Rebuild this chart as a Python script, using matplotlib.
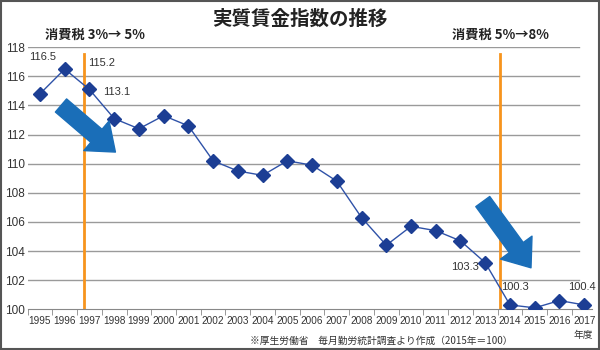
import numpy as np
import matplotlib
matplotlib.use('Agg')
import matplotlib.pyplot as plt
from matplotlib.patches import Rectangle

plt.rcParams['font.family'] = ['Liberation Sans', 'Noto Sans CJK JP', 'DejaVu Sans']

# data
years = list(range(1995, 2018))
wage_index = [114.8, 116.5, 115.1, 113.1, 112.4, 113.3, 112.6, 110.2, 109.5, 109.2,
              110.2, 109.9, 108.8, 106.3, 104.4, 105.7, 105.4, 104.7, 103.2, 100.3,
              100.1, 100.6, 100.3]
label_texts = ['116.5', '115.2', '113.1', '103.3', '100.3', '100.4']
label_x = [1994.55, 1996.95, 1997.55, 2011.6, 2013.65, 2016.35]
label_y = [117.33, 116.93, 114.93, 102.93, 101.55, 101.55]
tax_years = [1996.8, 2013.6]
tax_texts = ['消費税 3%→ 5%', '消費税 5%→8%']
yticks = list(range(100, 119, 2))

fig = plt.figure(figsize=(6, 3.5), dpi=100)
ax = fig.add_axes([0.046, 0.1163, 0.94, 0.7487])

ax.set_xlim(1994.5, 2017.3)
ax.set_ylim(100, 118)

# grid lines (stop a bit short of the right end like the original)
for y in yticks[1:]:
    ax.plot([1994.5, 2016.8], [y, y], color='#9a9a9a', lw=1, zorder=1)

# tax hike lines
for tx in tax_years:
    ax.plot([tx, tx], [100, 117.55], color='#f7941d', lw=2, zorder=2)

ax.plot(years, wage_index, color='#2f52a8', lw=1, marker='D', markersize=7.5,
        markerfacecolor='#1c3e94', markeredgecolor='#1c3e94', zorder=4)

# value labels
for lx, ly, txt in zip(label_x, label_y, label_texts):
    ax.text(lx, ly, txt, fontsize=8, color='#333333', va='center', ha='left')

# trend arrows
arrow = dict(arrowstyle='simple,head_width=1.4,head_length=0.9,tail_width=0.62',
             color='#1a6eb8', shrinkA=0, shrinkB=0, mutation_scale=20)
ax.annotate('', xy=(1998.05, 110.8), xytext=(1995.85, 114.0), arrowprops=arrow, zorder=5)
ax.annotate('', xy=(2014.85, 102.85), xytext=(2012.9, 107.4), arrowprops=arrow, zorder=5)

# axes styling
for s in ['top', 'right', 'left']:
    ax.spines[s].set_visible(False)
ax.spines['bottom'].set_color('#888888')
ax.set_yticks(yticks)
ax.tick_params(axis='y', length=0, labelsize=8.5, pad=2, labelcolor='#333333')
ax.set_xticks(years)
ax.set_xticklabels([str(y) for y in years],
                   family=['Liberation Sans Narrow', 'Liberation Sans'])
ax.set_xticks(np.arange(1994.5, 2017, 1), minor=True)
ax.tick_params(axis='x', which='major', length=0, labelsize=7.2, pad=5, labelcolor='#333333')
ax.tick_params(axis='x', which='minor', length=4, color='#888888')

# titles and notes
fig.text(0.5, 0.945, '実質賃金指数の推移', ha='center', va='center', fontsize=14,
         fontweight='bold', family=['Noto Sans CJK JP'], color='#222222')
fig.text(0.075, 0.9, tax_texts[0], ha='left', va='center', fontsize=9.5,
         fontweight='bold', family=['Noto Sans CJK JP'], color='#222222')
fig.text(0.753, 0.9, tax_texts[1], ha='left', va='center', fontsize=9.5,
         fontweight='bold', family=['Noto Sans CJK JP'], color='#222222')
fig.text(0.417, 0.025, '※厚生労働省　毎月勤労統計調査より作成（2015年＝100）', ha='left',
         va='center', fontsize=7, family=['Noto Sans CJK JP'], color='#333333')
fig.text(0.972, 0.043, '年度', ha='center', va='center', fontsize=7,
         family=['Noto Sans CJK JP'], color='#333333')

fig.patches.append(Rectangle((0.002, 0.003), 0.996, 0.994, transform=fig.transFigure,
                             fill=False, edgecolor='#555555', lw=1.5))

fig.savefig('out.png', dpi=100)
